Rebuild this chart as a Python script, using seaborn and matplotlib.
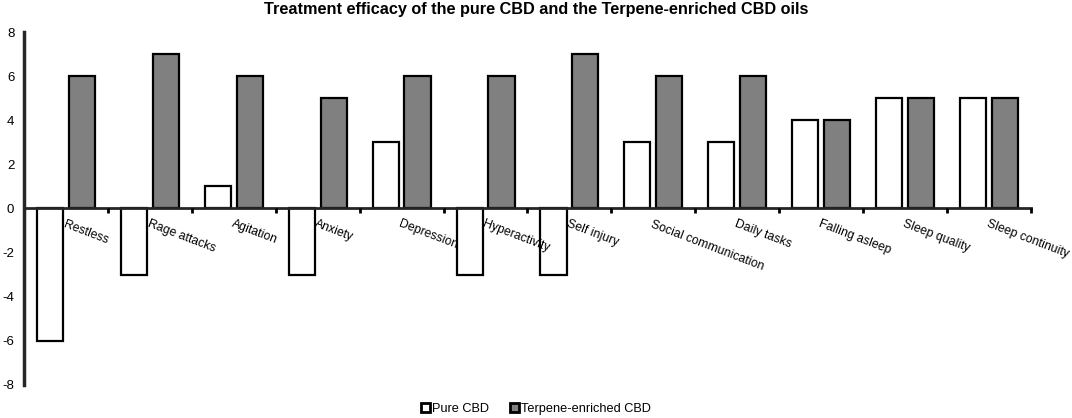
import pandas as pd
import matplotlib.pyplot as plt
import seaborn as sns

# data
categories = ["Restless", "Rage attacks", "Agitation", "Anxiety", "Depression",
              "Hyperactivity", "Self injury", "Social communication", "Daily tasks",
              "Falling asleep", "Sleep quality", "Sleep continuity"]
pure_cbd = [-6, -3, 1, -3, 3, -3, -3, 3, 3, 4, 5, 5]
terpene_cbd = [6, 7, 6, 5, 6, 6, 7, 6, 6, 4, 5, 5]
series_names = ["Pure CBD", "Terpene-enriched CBD"]
y_ticks = [-8, -6, -4, -2, 0, 2, 4, 6, 8]

df = pd.concat([
    pd.DataFrame({"category": categories, "value": pure_cbd, "treatment": series_names[0]}),
    pd.DataFrame({"category": categories, "value": terpene_cbd, "treatment": series_names[1]}),
], ignore_index=True)

sns.set_theme(style="white", rc={"text.color": "black", "axes.labelcolor": "black",
                                 "xtick.color": "black", "ytick.color": "black"})
plt.rcParams["font.family"] = ["Liberation Sans", "DejaVu Sans"]

fig = plt.figure(figsize=(10.72, 4.18), dpi=100)
ax = fig.add_axes([0.0224, 0.079, 0.9393, 0.8444])

sns.barplot(data=df, x="category", y="value", hue="treatment",
            order=categories, hue_order=series_names,
            palette={series_names[0]: "white", series_names[1]: "#808080"},
            edgecolor="black", linewidth=1.6, width=0.76, gap=0.18,
            ax=ax, legend=True)

ax.set_ylim(-8, 8)
ax.set_xlim(-0.5, len(categories) - 0.5)
ax.set_yticks(y_ticks)
ax.set_yticklabels([str(t) for t in y_ticks], fontsize=9.5)
ax.tick_params(axis="y", length=0, pad=7)

# x axis sits on the zero line
ax.spines["top"].set_visible(False)
ax.spines["right"].set_visible(False)
ax.spines["bottom"].set_position(("data", 0))
ax.spines["bottom"].set_linewidth(2)
ax.spines["bottom"].set_zorder(5)
ax.spines["left"].set_linewidth(2.5)
ax.spines["left"].set_zorder(5)
ax.xaxis.set_zorder(6)

ax.set_xticks(range(len(categories)))
ax.set_xticklabels(categories, rotation=-21, ha="left", va="top",
                   rotation_mode="anchor", fontsize=8.8)
ax.set_xticks([i + 0.5 for i in range(len(categories))], minor=True)
ax.tick_params(axis="x", which="major", length=0, pad=7)
ax.tick_params(axis="x", which="minor", length=3.5, width=2, direction="out",
               color="black", bottom=True)
ax.set_xlabel("")
ax.set_ylabel("")

fig.suptitle("Treatment efficacy of the pure CBD and the Terpene-enriched CBD oils",
             fontsize=11.7, fontweight="bold", y=0.995)

handles, labels = ax.get_legend_handles_labels()
ax.get_legend().remove()
leg = fig.legend(handles, labels, loc="lower center", bbox_to_anchor=(0.5, -0.02),
                 ncol=2, frameon=False, fontsize=9.2, handlelength=0.7,
                 handleheight=0.7, handletextpad=0.15, columnspacing=1.6)
for h in leg.legend_handles:
    h.set_linewidth(2)

fig.savefig("out.png", dpi=100)
